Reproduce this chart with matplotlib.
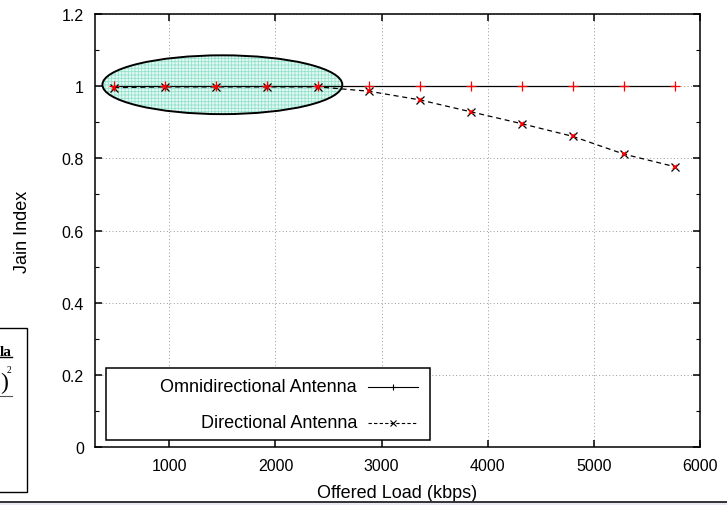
import matplotlib.pyplot as plt
import numpy as np
from matplotlib.patches import Ellipse, Rectangle
from matplotlib.lines import Line2D
from matplotlib.ticker import MultipleLocator

plt.rcParams['font.family'] = ['Liberation Sans', 'DejaVu Sans']
plt.rcParams['hatch.linewidth'] = 0.6

# offered load (kbps) and Jain fairness index per antenna type
load = [480, 960, 1440, 1920, 2400, 2880, 3360, 3840, 4320, 4800, 5280, 5760]
omni = [1.0, 1.0, 1.0, 1.0, 1.0, 1.0, 1.0, 1.0, 1.0, 1.0, 1.0, 1.0]
directional = [0.996, 0.998, 0.998, 0.998, 0.998, 0.986, 0.962, 0.929, 0.896,
               0.861, 0.812, 0.777]

x_ticks = [1000, 2000, 3000, 4000, 5000, 6000]
y_ticks = [0, 0.2, 0.4, 0.6, 0.8, 1.0, 1.2]
y_tick_labels = ['0', '0.2', '0.4', '0.6', '0.8', '1', '1.2']
legend_labels = ['Omnidirectional Antenna', 'Directional Antenna']

fig = plt.figure(figsize=(7.27, 5.06), dpi=100)
W, H = 727.0, 506.0


def fx(px):
    return px / W


def fy(py):
    return 1 - py / H


ax = fig.add_axes([fx(95), fy(448), fx(700) - fx(95), fy(15) - fy(448)])

ax.set_xlim(300, 6000)
ax.set_ylim(0, 1.2)
ax.set_xticks(x_ticks)
ax.set_yticks(y_ticks)
ax.set_yticklabels(y_tick_labels)
ax.yaxis.set_minor_locator(MultipleLocator(0.1))
ax.tick_params(which='major', direction='in', length=5, width=1.1,
               labelsize=11.5, top=True, right=True, pad=8)
ax.tick_params(which='minor', direction='in', length=3, width=0.8,
               top=False, right=True)
for s in ax.spines.values():
    s.set_linewidth(1.1)

ax.grid(True, which='major', linestyle=(0, (1, 2.5)), color='#9a9a9a',
        linewidth=0.7)
ax.set_axisbelow(True)

# highlighted low-load region
hl = Ellipse((1500, 1.004), 2260, 0.163, facecolor='#e4f9f3',
             edgecolor='#93e2cc', hatch='+++++', linewidth=0, zorder=2)
ax.add_patch(hl)
ax.add_patch(Ellipse((1500, 1.004), 2260, 0.163, facecolor='none',
                     edgecolor='black', linewidth=1.4, zorder=3))

ax.plot(load, omni, color='black', linewidth=0.9, zorder=4)
ax.plot(load, omni, linestyle='none', marker='+', markersize=6.5,
        markeredgecolor='red', markeredgewidth=0.9, zorder=5)
ax.plot(load, directional, color='black', linewidth=0.9,
        linestyle=(0, (4, 3)), zorder=4)
ax.plot(load, directional, linestyle='none', marker='x', markersize=6,
        markeredgecolor='black', markeredgewidth=0.9, zorder=5)
ax.plot(load, directional, linestyle='none', marker='x', markersize=3.2,
        markeredgecolor='red', markeredgewidth=1.2, zorder=6)

ax.set_xlabel('Offered Load (kbps)', fontsize=13, labelpad=8)
ax.set_ylabel('Jain Index', fontsize=13, labelpad=22)

# legend box, labels right-aligned in front of the line samples
ax.add_patch(Rectangle((fx(106), fy(441)), fx(430) - fx(106), fy(369) - fy(441),
                       transform=fig.transFigure, facecolor='white',
                       edgecolor='black', linewidth=1.1, zorder=7))
rows = [(388, '-', '+'), (424, (0, (3, 2)), 'x')]
for label, (py, ls, mk) in zip(legend_labels, rows):
    fig.text(fx(357), fy(py), label, ha='right', va='center', fontsize=13,
             zorder=8)
    fig.add_artist(Line2D([fx(368), fx(418)], [fy(py), fy(py)], color='black',
                          linewidth=0.8, linestyle=ls, zorder=8))
    fig.add_artist(Line2D([fx(393)], [fy(py)], marker=mk, markersize=5,
                          color='black', markeredgewidth=0.8, zorder=8))

# neighbouring page content at the left edge and bottom
fig.add_artist(Rectangle((fx(-10), fy(493)), fx(27) - fx(-10), fy(329) - fy(493),
                         transform=fig.transFigure, facecolor='none',
                         edgecolor='black', linewidth=1.0))
fig.text(fx(0), fy(353), 'la', fontsize=11, fontweight='bold',
         family=['Liberation Serif', 'DejaVu Serif'], ha='left', va='center')
fig.add_artist(Line2D([fx(0), fx(12)], [fy(358), fy(358)], color='black',
                      linewidth=1.0))
fig.text(fx(0), fy(383), ')', fontsize=17,
         family=['Liberation Serif', 'DejaVu Serif'], ha='left', va='center')
fig.text(fx(7), fy(371), '2', fontsize=7,
         family=['Liberation Serif', 'DejaVu Serif'], ha='left', va='center')
fig.add_artist(Line2D([fx(0), fx(12)], [fy(397), fy(397)], color='#555555',
                      linewidth=0.8))

fig.add_artist(Rectangle((0, 0), 1, fy(503), transform=fig.transFigure,
                         facecolor='#e9e9f5', edgecolor='none'))
fig.add_artist(Line2D([0, 1], [fy(503), fy(503)], color='#333333',
                      linewidth=1.4))

fig.savefig('out.png', dpi=100)
